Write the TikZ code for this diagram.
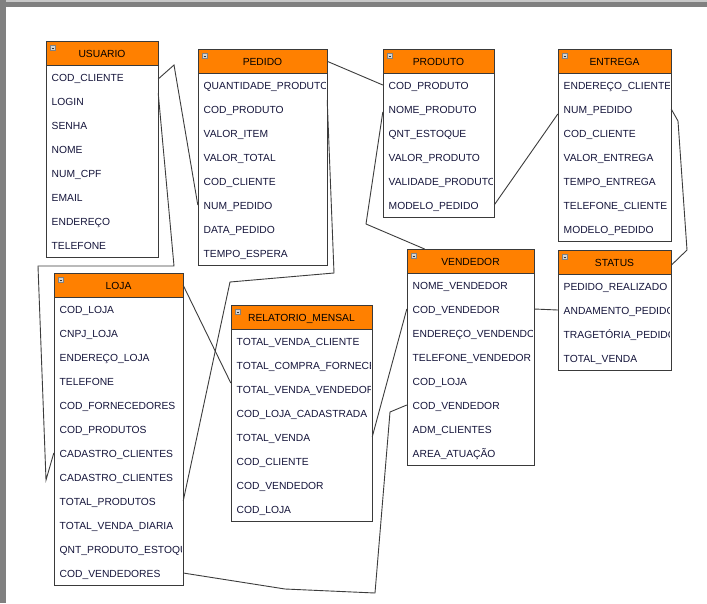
\documentclass[tikz,border=0pt]{standalone}
\usepackage{fontspec}
\setmainfont{Liberation Sans}
\usetikzlibrary{calc}
\definecolor{hdrorange}{HTML}{FF8000}
\definecolor{framegray}{HTML}{808080}
\definecolor{framelight}{HTML}{C8C8C8}
\definecolor{boxgray}{HTML}{3A3A3A}
\definecolor{linkgray}{HTML}{3C3C3C}
\definecolor{rowink}{HTML}{14143A}
\definecolor{iconfill}{HTML}{D4D4D4}
\tikzset{
  boxedge/.style={draw=boxgray, line width=1pt},
  hdrtext/.style={inner sep=0pt, minimum height=24pt, text height=7.4pt, text depth=0pt, font=\fontsize{10.3}{12}\selectfont, text=black},
  rowslot/.style={inner sep=0pt, minimum height=24pt},
  rowtext/.style={anchor=west, inner sep=0pt, text height=7.4pt, text depth=0pt, font=\fontsize{10.3}{12}\selectfont, text=rowink},
  iconbox/.style={fill=iconfill, draw=gray, line width=0.6pt},
  iconbar/.style={draw=black!80, line width=1pt},
  link/.style={draw=linkgray, line width=0.9pt}
}
\newcommand{\erTable}[7]{%
  \pgfmathsetmacro{\erW}{#3-#2}%
  \pgfmathsetmacro{\erB}{#4+24+24*#5}%
  \fill[white] (#2,#4) rectangle (#3,\erB);
  \fill[hdrorange] (#2,#4) rectangle (#3,{#4+24});
  \draw[boxedge] (#2,#4) rectangle (#3,\erB);
  \draw[boxedge] (#2,{#4+24}) -- (#3,{#4+24});
  \node[hdrtext, minimum width=\erW pt] (#1) at ({(#2+#3)/2},{#4+12.3}) {#6};
  \draw[iconbox] ({#2+4.5},{#4+4.5}) rectangle ({#2+9.5},{#4+9.5});
  \draw[iconbar] ({#2+5.6},{#4+7}) -- ({#2+8.4},{#4+7});
  \begin{scope}
    \clip (#2,#4) rectangle ({#3-1.5},\erB);
    \foreach \r [count=\i] in {#7} {
      \node[rowslot, minimum width=\erW pt] (#1-\i) at ({(#2+#3)/2},{#4+12+24*\i}) {};
      \node[rowtext] (#1-\i-t) at ({#2+5.5},{#4+12.5+24*\i}) {\r};
    }
  \end{scope}
}
\begin{document}
\begin{tikzpicture}[x=1pt, y=-1pt]
\useasboundingbox (0,0) rectangle (707,603);
\fill[white] (0,0) rectangle (707,603);
\fill[framegray] (0,0) rectangle (707,7);
\fill[framelight] (0,0) rectangle (707,1.5);
\fill[framegray] (0,0) rectangle (6,603);

\erTable{u}{46}{158}{41}{8}{USUARIO}{COD\_CLIENTE,LOGIN,SENHA,NOME,NUM\_CPF,EMAIL,ENDEREÇO,TELEFONE}
\erTable{p}{198}{327}{49}{8}{PEDIDO}{QUANTIDADE\_PRODUTO,COD\_PRODUTO,VALOR\_ITEM,VALOR\_TOTAL,COD\_CLIENTE,NUM\_PEDIDO,DATA\_PEDIDO,TEMPO\_ESPERA}
\erTable{pr}{383}{494}{49}{6}{PRODUTO}{COD\_PRODUTO,NOME\_PRODUTO,QNT\_ESTOQUE,VALOR\_PRODUTO,VALIDADE\_PRODUTO,MODELO\_PEDIDO}
\erTable{e}{558}{671}{49}{7}{ENTREGA}{ENDEREÇO\_CLIENTE,NUM\_PEDIDO,COD\_CLIENTE,VALOR\_ENTREGA,TEMPO\_ENTREGA,TELEFONE\_CLIENTE,MODELO\_PEDIDO}
\erTable{s}{558}{671}{250}{4}{STATUS}{PEDIDO\_REALIZADO,ANDAMENTO\_PEDIDO,TRAGETÓRIA\_PEDIDO,TOTAL\_VENDA}
\erTable{l}{54}{183}{273}{12}{LOJA}{COD\_LOJA,CNPJ\_LOJA,ENDEREÇO\_LOJA,TELEFONE,COD\_FORNECEDORES,COD\_PRODUTOS,CADASTRO\_CLIENTES,CADASTRO\_CLIENTES,TOTAL\_PRODUTOS,TOTAL\_VENDA\_DIARIA,QNT\_PRODUTO\_ESTOQUE,COD\_VENDEDORES}
\erTable{r}{231}{372}{305}{8}{RELATORIO\_MENSAL}{TOTAL\_VENDA\_CLIENTE,TOTAL\_COMPRA\_FORNECEDOR,TOTAL\_VENDA\_VENDEDOR,COD\_LOJA\_CADASTRADA,TOTAL\_VENDA,COD\_CLIENTE,COD\_VENDEDOR,COD\_LOJA}
\erTable{v}{407}{534}{249}{8}{VENDEDOR}{NOME\_VENDEDOR,COD\_VENDEDOR,ENDEREÇO\_VENDENDO,TELEFONE\_VENDEDOR,COD\_LOJA,COD\_VENDEDOR,ADM\_CLIENTES,AREA\_ATUAÇÃO}

% connectors
\draw[link] ([yshift=-2pt]u-1.east) -- (174,65) -- (p-6.west);
\draw[link] ([yshift=8pt]u-2.east) -- (174,266) -- (38,266) -- (46,480) -- (l-7.west);
\draw[link] (p.east) -- (pr-1.west);
\draw[link] ([yshift=-15pt]p-1.east) -- (334,273) -- (230,282) -- (l-9.east);
\draw[link] ([yshift=-3pt]pr-2.west) -- (366,224) -- ([xshift=18pt]v.north west);
\draw[link] (pr-6.east) -- ([yshift=-5pt]e-2.west);
\draw[link] (e-2.east) -- (678,121) -- (687,250) -- ([yshift=-3pt]s.east);
\draw[link] (v-2.east) -- (s-2.west);
\draw[link] (l.east) -- ([yshift=6pt]r-3.west);
\draw[link] (v-2.west) -- (r-5.east);
\draw[link] (v-6.west) -- (390,412) -- (375,593) -- (285,589) -- (l-12.east);
\end{tikzpicture}
\end{document}
